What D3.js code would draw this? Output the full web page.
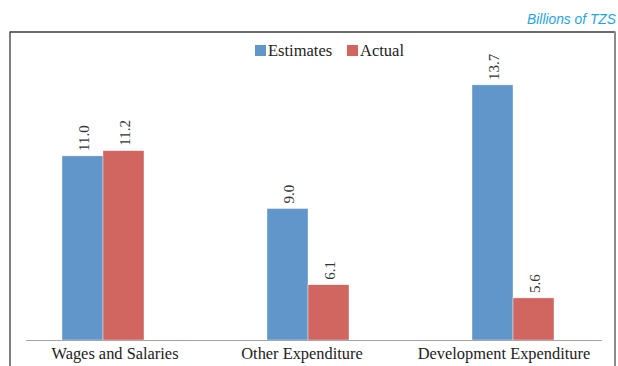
<!DOCTYPE html>
<html>
<head>
<meta charset="utf-8">
<script src="https://cdn.jsdelivr.net/npm/d3@7"></script>
<style>
  html, body { margin: 0; padding: 0; background: #fff; }
  svg { display: block; }
</style>
</head>
<body>
<svg id="chart" width="618" height="366"></svg>
<script>
// Budget execution: estimates vs actual spending
const categories = ["Wages and Salaries", "Other Expenditure", "Development Expenditure"];
const seriesNames = ["Estimates", "Actual"];
const estimates = [11.0, 9.0, 13.7];
const actual = [11.2, 6.1, 5.6];
const unitLabel = "Billions of TZS";

const colors = { Estimates: "#6096c9", Actual: "#d0665f" };
const serif = "'Liberation Serif', 'Times New Roman', serif";

const svg = d3.select("#chart");
const W = 618, H = 366;

const rows = categories.map((c, i) => ({ category: c, Estimates: estimates[i], Actual: actual[i] }));

// Category bands and the pair of bars inside each band
const x = d3.scaleBand().domain(categories).range([0.5, 615.5]).paddingInner(0).paddingOuter(0);
const barW = 41;
const xs = d3.scaleBand().domain(seriesNames)
  .range([x.bandwidth() / 2 - barW, x.bandwidth() / 2 + barW]).padding(0);

// Value axis starts at 4 (hidden axis minimum)
const baseY = 340;
const y = d3.scaleLinear().domain([4, 16]).range([baseY, baseY - 12 * 26.3]);

// Unit note
svg.append("text")
  .attr("x", 616).attr("y", 24)
  .attr("text-anchor", "end")
  .attr("font-family", "'Liberation Sans', Arial, sans-serif")
  .attr("font-style", "italic")
  .attr("font-size", 13.8)
  .attr("fill", "#1ea4e3")
  .text(unitLabel);

// Chart frame
svg.append("line").attr("x1", 10).attr("x2", 615).attr("y1", 32).attr("y2", 32)
  .attr("stroke", "#3a3a3a").attr("stroke-width", 1.3);
svg.append("line").attr("x1", 10).attr("x2", 10).attr("y1", 31.4).attr("y2", H)
  .attr("stroke", "#3a3a3a").attr("stroke-width", 1.3);
svg.append("line").attr("x1", 615).attr("x2", 615).attr("y1", 31.4).attr("y2", H)
  .attr("stroke", "#8a8a8a").attr("stroke-width", 2);

// Bars
const groups = svg.append("g").selectAll("g")
  .data(rows).join("g")
  .attr("transform", d => `translate(${x(d.category)},0)`);

groups.selectAll("rect")
  .data(d => seriesNames.map(s => ({ series: s, value: d[s] })))
  .join("rect")
  .attr("x", d => xs(d.series))
  .attr("width", xs.bandwidth())
  .attr("y", d => y(d.value))
  .attr("height", d => y.range()[0] - y(d.value))
  .attr("fill", d => colors[d.series])
  .attr("stroke", "#fff")
  .attr("stroke-width", 0.4);

// Rotated value labels above each bar
groups.selectAll("text.value")
  .data(d => seriesNames.map(s => ({ series: s, value: d[s] })))
  .join("text")
  .attr("class", "value")
  .attr("transform", d => `translate(${xs(d.series) + xs.bandwidth() / 2 + 1},${y(d.value) - 5}) rotate(-90)`)
  .attr("dy", "0.35em")
  .attr("text-anchor", "start")
  .attr("font-family", serif)
  .attr("font-size", 15)
  .attr("fill", "#333")
  .text(d => d3.format(".1f")(d.value));

// Category axis
svg.append("line").attr("x1", 26).attr("x2", 602).attr("y1", baseY + 0.5).attr("y2", baseY + 0.5)
  .attr("stroke", "#a6a6a6").attr("stroke-width", 1);

const labelShift = [12, -6, -9];
svg.append("g").selectAll("text")
  .data(categories).join("text")
  .attr("x", (d, i) => x(d) + x.bandwidth() / 2 + labelShift[i])
  .attr("y", 359)
  .attr("text-anchor", "middle")
  .attr("font-family", serif)
  .attr("font-size", 16.4)
  .attr("fill", "#222")
  .text(d => d);

// Legend
const legend = svg.append("g").attr("transform", "translate(255,45)");
const legendX = [0, 92];
seriesNames.forEach((s, i) => {
  const g = legend.append("g").attr("transform", `translate(${legendX[i]},0)`);
  g.append("rect").attr("width", 11).attr("height", 11).attr("fill", colors[s]);
  g.append("text").attr("x", 13).attr("y", 11)
    .attr("font-family", serif).attr("font-size", 16.5).attr("fill", "#222")
    .text(s);
});
</script>
</body>
</html>
